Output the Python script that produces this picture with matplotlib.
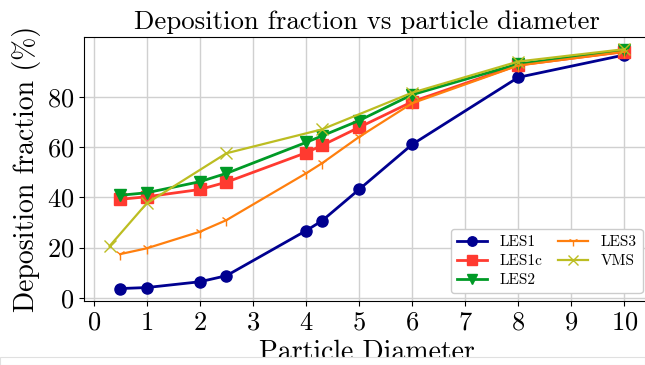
import matplotlib
matplotlib.use("Agg")
import matplotlib.pyplot as plt
from matplotlib.patches import Rectangle

plt.rcParams['font.family'] = 'serif'
plt.rcParams['font.serif'] = ['cmr10']
plt.rcParams['mathtext.fontset'] = 'cm'
plt.rcParams['axes.formatter.use_mathtext'] = True

# Datos
x_les = [0.5, 1, 2, 2.5, 4, 4.3, 5, 6, 8, 10]
les1 = [3.7, 4.1, 6.4, 8.8, 26.7, 30.6, 43.1, 61.0, 87.7, 96.6]
les1c = [39.2, 40.2, 43.1, 46.0, 57.7, 60.6, 67.8, 78.0, 92.6, 97.9]
les2 = [40.8, 41.8, 46.2, 49.5, 61.8, 64.4, 70.5, 80.8, 93.0, 98.4]
les3 = [17.4, 19.7, 26.3, 30.9, 49.5, 53.5, 64.0, 77.4, 92.4, 97.9]
x_vms = [0.3, 1, 2.5, 4.3, 6, 8, 10]
vms = [20.6, 37.6, 57.5, 67.0, 81.6, 94.0, 98.9]

fig = plt.figure(figsize=(6.45, 3.65), dpi=100)
ax = fig.add_axes([0.130, 0.175, 0.878, 0.724])

ax.plot(x_les, les1, color='#000090', marker='o', markersize=8, linewidth=2, label='LES1')
ax.plot(x_les, les1c, color='#ff3a30', marker='s', markersize=8, linewidth=2, label='LES1c')
ax.plot(x_les, les2, color='#009a26', marker='v', markersize=9, linewidth=2, label='LES2')
ax.plot(x_les, les3, color='#ff7f0e', marker='1', markersize=8, linewidth=1.6, label='LES3')
ax.plot(x_vms, vms, color='#bcbd22', marker='x', markersize=8, linewidth=1.6, label='VMS')

ax.set_xlim(-0.185, 10.485)
ax.set_ylim(-1.3, 103.8)
ax.set_xticks(range(0, 11))
ax.set_yticks([0, 20, 40, 60, 80])
ax.tick_params(labelsize=19)
ax.grid(True, color='#d0d0d0', linewidth=1)
ax.set_axisbelow(True)

ax.set_title('Deposition fraction vs particle diameter', fontsize=19.3, pad=6)
ax.set_xlabel('Particle Diameter', fontsize=20, labelpad=4)
ax.set_ylabel('Deposition fraction (%)', fontsize=20, labelpad=4)
ax.legend(loc='lower right', ncol=2, fontsize=11, framealpha=1,
          edgecolor='#cccccc', columnspacing=1.0, handlelength=2.0,
          markerscale=0.85, labelspacing=0.35)

# franja inferior recortada de la captura
fig.add_artist(Rectangle((0, 0), 1, 8 / 365, transform=fig.transFigure,
                         facecolor='white', edgecolor='#e0e0e0', linewidth=0.8, zorder=10))

fig.savefig('out.png', dpi=100)
